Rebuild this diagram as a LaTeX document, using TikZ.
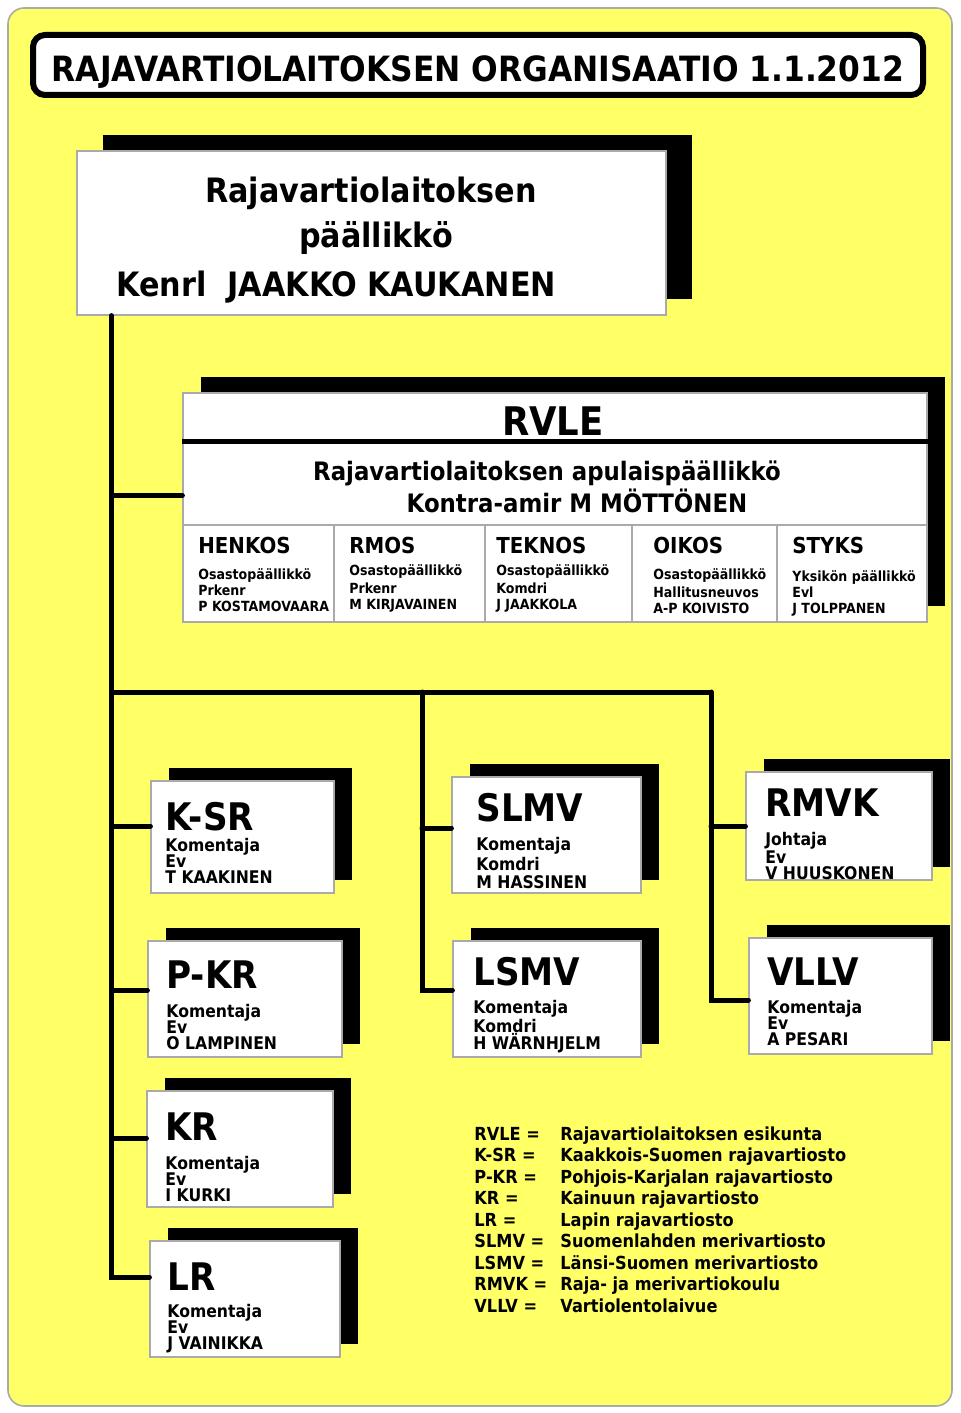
\documentclass[tikz,border=0pt]{standalone}
\usepackage{fontspec}
\setmainfont{DejaVu Sans}[FakeStretch=0.9]
\usetikzlibrary{positioning,fit,shadows}
\definecolor{bgyellow}{RGB}{255,255,102}
\definecolor{edgegray}{RGB}{170,170,170}
\newcommand\orgtitlefont{\bfseries\fontsize{17.4}{20}\selectfont}
\newcommand\chieffont{\bfseries\fontsize{16.8}{20}\selectfont}
\newcommand\rvlefont{\bfseries\fontsize{19.7}{22}\selectfont}
\newcommand\deputyfont{\bfseries\fontsize{12.7}{15}\selectfont}
\newcommand\cellhd{\fontsize{11}{12}\selectfont}
\newcommand\unithd{\fontsize{19}{20}\selectfont}
\lineskiplimit=-50pt

\begin{document}
\begin{tikzpicture}[x=0.5pt, y=-0.5pt,
    every node/.style={inner sep=0pt},
    unit/.style={draw=edgegray, line width=0.6pt, fill=white,
      drop shadow={shadow xshift=9pt, shadow yshift=6.5pt, fill=black, opacity=1}},
    bigunit/.style={draw=edgegray, line width=0.6pt, fill=white,
      drop shadow={shadow xshift=#1, shadow yshift=8pt, fill=black, opacity=1}},
    cell/.style={draw=edgegray, line width=0.6pt},
    link/.style={line width=2.5pt, line cap=round},
    rule/.style={line width=2.5pt},
    unittxt/.style={anchor=north west, align=left, font=\bfseries\fontsize{8.7}{8}\selectfont},
    celltxt/.style={anchor=north west, align=left, font=\bfseries\fontsize{7}{8}\selectfont}]

  \useasboundingbox (0,0) rectangle (960,1413);
  \filldraw[fill=bgyellow, draw=edgegray, line width=0.8pt, rounded corners=8pt] (8,8) rectangle (952,1406);

  % title
  \node[draw, line width=3pt, rounded corners=6pt, fill=white, minimum width=445pt, minimum height=30pt,
    text height=16.2pt, text depth=0pt, font=\orgtitlefont] (title) at (478,65) {RAJAVARTIOLAITOKSEN ORGANISAATIO 1.1.2012};

  % chief
  \node[bigunit=13pt, fit={(77,151) (666,315)}] (chief) {};
  \node[font=\chieffont, anchor=base] (chief-l1) at (371,202) {Rajavartiolaitoksen};
  \node[font=\chieffont, anchor=base] (chief-l2) at (376,247) {päällikkö};
  \node[font=\chieffont, anchor=base west] (chief-l3) at (116,296) {Kenrl\ \ JAAKKO KAUKANEN};

  % headquarters
  \node[bigunit=9pt, fit={(183,393) (927,622)}] (rvle) {};
  \draw[rule] ([yshift=-24.5pt]rvle.north west) -- ([yshift=-24.5pt]rvle.north east);
  \node[font=\rvlefont, anchor=base] (rvle-name) at (553,435) {RVLE};
  \node[font=\deputyfont, anchor=base] (deputy-l1) at (547,480) {Rajavartiolaitoksen apulaispäällikkö};
  \node[font=\deputyfont, anchor=base] (deputy-l2) at (577,512) {Kontra-amir M MÖTTÖNEN};

  \node[cell, fit={(183,525) (334,622)}] (henkos) {};
  \node[cell, fit={(334,525) (485,622)}] (rmos) {};
  \node[cell, fit={(485,525) (632,622)}] (teknos) {};
  \node[cell, fit={(632,525) (777,622)}] (oikos) {};
  \node[cell, fit={(777,525) (927,622)}] (styks) {};
  \node[celltxt] (henkos-txt) at (198,537) {{\cellhd HENKOS}\\[5pt]Osastopäällikkö\\Prkenr\\P KOSTAMOVAARA};
  \node[celltxt] (rmos-txt) at (349,537) {{\cellhd RMOS}\\[3pt]Osastopäällikkö\\[1pt]Prkenr\\M KIRJAVAINEN};
  \node[celltxt] (teknos-txt) at (496,537) {{\cellhd TEKNOS}\\[3pt]Osastopäällikkö\\[1pt]Komdri\\J JAAKKOLA};
  \node[celltxt] (oikos-txt) at (653,537) {{\cellhd OIKOS}\\[5pt]Osastopäällikkö\\[1pt]Hallitusneuvos\\A-P KOIVISTO};
  \node[celltxt] (styks-txt) at (792,537) {{\cellhd STYKS}\\[6pt]Yksikön päällikkö\\Evl\\J TOLPPANEN};

  % units
  \node[unit, fit={(151,781) (334,893)}] (ksr) {};
  \node[unit, fit={(452,777) (641,893)}] (slmv) {};
  \node[unit, fit={(746,772) (932,880)}] (rmvk) {};
  \node[unit, fit={(148,941) (342,1057)}] (pkr) {};
  \node[unit, fit={(453,941) (641,1057)}] (lsmv) {};
  \node[unit, fit={(749,938) (932,1054)}] (vllv) {};
  \node[unit, fit={(147,1091) (333,1207)}] (kr) {};
  \node[unit, fit={(150,1241) (340,1357)}] (lr) {};

  \node[unittxt] (ksr-txt) at (165,802) {{\unithd K-SR}\\[2.5pt]Komentaja\\Ev\\T KAAKINEN};
  \node[unittxt] (slmv-txt) at (476,793) {{\unithd SLMV}\\[6.5pt]Komentaja\\[2pt]Komdri\\[1pt]M HASSINEN};
  \node[unittxt] (rmvk-txt) at (765,788) {{\unithd RMVK}\\[6.5pt]Johtaja\\[1pt]Ev\\V HUUSKONEN};
  \node[unittxt] (pkr-txt) at (166,960) {{\unithd P-KR}\\[6.5pt]Komentaja\\Ev\\O LAMPINEN};
  \node[unittxt] (lsmv-txt) at (473,957) {{\unithd LSMV}\\[6pt]Komentaja\\[1.5pt]Komdri\\[0.5pt]H WÄRNHJELM};
  \node[unittxt] (vllv-txt) at (767,957) {{\unithd VLLV}\\[6pt]Komentaja\\Ev\\A PESARI};
  \node[unittxt] (kr-txt) at (165,1112) {{\unithd KR}\\[6.5pt]Komentaja\\Ev\\I KURKI};
  \node[unittxt] (lr-txt) at (167,1262) {{\unithd LR}\\[5.5pt]Komentaja\\Ev\\J VAINIKKA};

  % connectors
  \coordinate (hub) at (112,692);
  \coordinate (midfork) at (422,692);
  \coordinate (rightfork) at (711,692);
  \draw[link] ([xshift=17.5pt]chief.south west) |- ([yshift=11pt]lr.west);
  \draw[link] (hub) -- (rightfork);
  \draw[link] ([yshift=6pt]rvle.west -| hub) -- ([yshift=6pt]rvle.west);
  \draw[link] ([yshift=5.5pt]ksr.west -| hub) -- ([yshift=5.5pt]ksr.west);
  \draw[link] ([yshift=4.5pt]pkr.west -| hub) -- ([yshift=4.5pt]pkr.west);
  \draw[link] ([yshift=5.5pt]kr.west -| hub) -- ([yshift=5.5pt]kr.west);
  \draw[link] ([yshift=3.5pt]slmv.west -| midfork) -- ([yshift=3.5pt]slmv.west);
  \draw[link] (midfork) |- ([yshift=4.5pt]lsmv.west);
  \draw[link] (rmvk.west -| rightfork) -- (rmvk.west);
  \draw[link] (rightfork) |- ([yshift=-2pt]vllv.west);

  % abbreviations
  \node[anchor=north west, align=left, font=\bfseries\fontsize{9}{10.75}\selectfont] (legend) at (474,1126) {%
    \makebox[43pt][l]{RVLE =}Rajavartiolaitoksen esikunta\\
    \makebox[43pt][l]{K-SR =}Kaakkois-Suomen rajavartiosto\\
    \makebox[43pt][l]{P-KR =}Pohjois-Karjalan rajavartiosto\\
    \makebox[43pt][l]{KR =}Kainuun rajavartiosto\\
    \makebox[43pt][l]{LR =}Lapin rajavartiosto\\
    \makebox[43pt][l]{SLMV =}Suomenlahden merivartiosto\\
    \makebox[43pt][l]{LSMV =}Länsi-Suomen merivartiosto\\
    \makebox[43pt][l]{RMVK =}Raja- ja merivartiokoulu\\
    \makebox[43pt][l]{VLLV =}Vartiolentolaivue};
\end{tikzpicture}
\end{document}
